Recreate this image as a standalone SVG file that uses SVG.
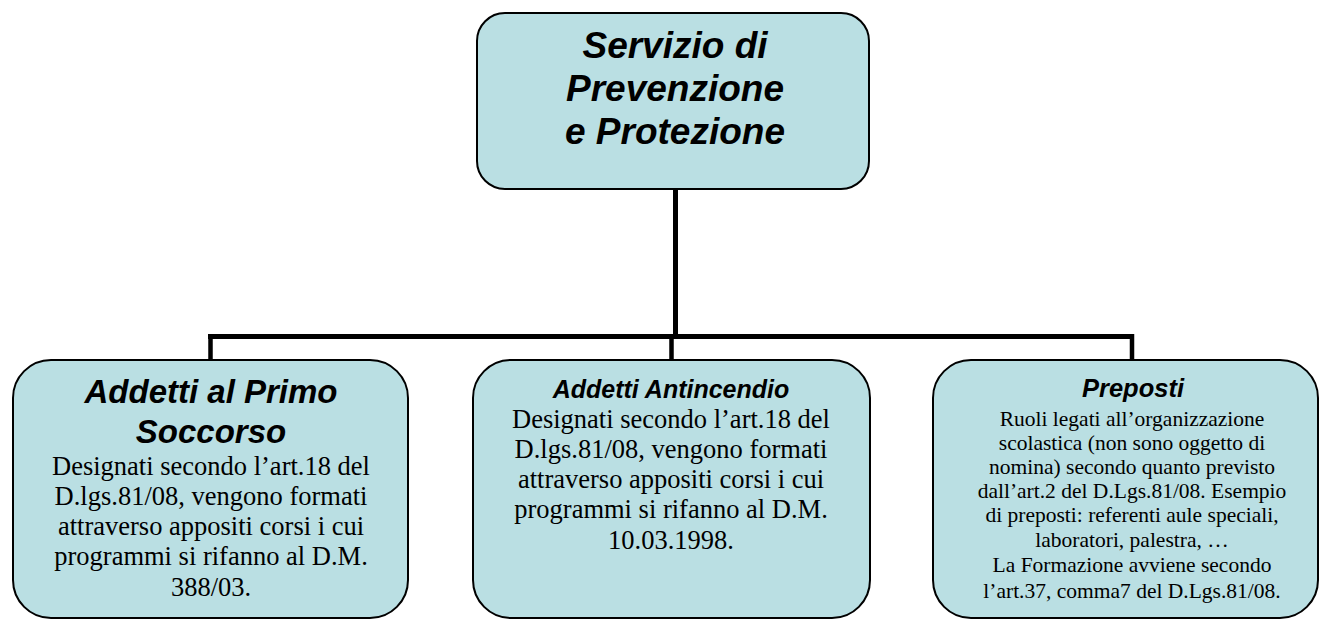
<svg xmlns="http://www.w3.org/2000/svg" width="1319" height="619" viewBox="0 0 1319 619">
<style>
.box{fill:#BADFE3;stroke:#000;stroke-width:2}
.h{font-family:"Liberation Sans",Arial,sans-serif;font-weight:bold;font-style:italic;fill:#000;text-anchor:middle}
.b{font-family:"Liberation Serif","Times New Roman",serif;fill:#000;text-anchor:middle}
.c{fill:none;stroke:#000;stroke-linecap:butt;stroke-linejoin:miter}
</style>
<rect width="1319" height="619" fill="#fff"/>
<g id="connectors">
<path class="c" stroke-width="5" d="M675.5 189 V336.5 M208 336.5 H1134"/>
<path class="c" stroke-width="4.5" d="M210.5 336 V361 M671.5 336 V361 M1132 334 V361"/>
</g>
<g id="node-spp">
<rect class="box" x="477" y="13" width="392" height="176" rx="28"/>
<text class="h" font-size="37"><tspan x="675" y="58">Servizio di</tspan><tspan x="675" y="101">Prevenzione</tspan><tspan x="675" y="144">e Protezione</tspan></text>
</g>
<g id="node-primo-soccorso">
<rect class="box" x="13" y="360" width="395" height="258" rx="38"/>
<text class="h" font-size="33"><tspan x="211" y="403">Addetti al Primo</tspan><tspan x="211" y="443">Soccorso</tspan></text>
<text class="b" font-size="26.5"><tspan x="211" y="475">Designati secondo l’art.18 del</tspan><tspan x="211" y="505">D.lgs.81/08, vengono formati</tspan><tspan x="211" y="535">attraverso appositi corsi i cui</tspan><tspan x="211" y="565">programmi si rifanno al D.M.</tspan><tspan x="211" y="596">388/03.</tspan></text>
</g>
<g id="node-antincendio">
<rect class="box" x="473" y="360" width="397" height="258" rx="38"/>
<text class="h" font-size="25"><tspan x="671" y="398">Addetti Antincendio</tspan></text>
<text class="b" font-size="26.5"><tspan x="671" y="428">Designati secondo l’art.18 del</tspan><tspan x="671" y="458">D.lgs.81/08, vengono formati</tspan><tspan x="671" y="488">attraverso appositi corsi i cui</tspan><tspan x="671" y="518">programmi si rifanno al D.M.</tspan><tspan x="671" y="549">10.03.1998.</tspan></text>
</g>
<g id="node-preposti">
<rect class="box" x="933" y="360" width="385" height="258" rx="38"/>
<text class="h" font-size="25.5"><tspan x="1133" y="397">Preposti</tspan></text>
<text class="b" font-size="21.5"><tspan x="1132" y="426">Ruoli legati all’organizzazione</tspan><tspan x="1132" y="450">scolastica (non sono oggetto di</tspan><tspan x="1132" y="474">nomina) secondo quanto previsto</tspan><tspan x="1132" y="498">dall’art.2 del D.Lgs.81/08. Esempio</tspan><tspan x="1132" y="522">di preposti: referenti aule speciali,</tspan><tspan x="1132" y="547">laboratori, palestra, …</tspan><tspan x="1132" y="572">La Formazione avviene secondo</tspan><tspan x="1132" y="598">l’art.37, comma7 del D.Lgs.81/08.</tspan></text>
</g>
</svg>
